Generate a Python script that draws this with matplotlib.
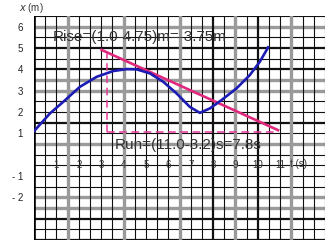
"""
Position-time graph with a tangent line drawn on graph paper,
showing rise and run used to get the slope.
"""
import numpy as np
import matplotlib.pyplot as plt
from matplotlib.transforms import ScaledTranslation

# blue position curve (time s, position m)
curve_t = [0.0, 0.71, 1.31, 2.05, 2.80, 3.54, 4.14, 4.58, 5.18, 5.77,
           6.37, 6.96, 7.41, 7.86, 8.38, 9.05, 9.64, 10.09, 10.46]
curve_x = [1.1, 1.93, 2.48, 3.18, 3.65, 3.92, 4.01, 4.0, 3.81, 3.42,
           2.87, 2.24, 1.96, 2.17, 2.56, 3.11, 3.73, 4.36, 5.03]

# tangent line end points
tangent_t = [3.02, 10.9]
tangent_x = [4.91, 1.15]

# rise / run helper lines
run_t = [3.25, 10.8]
run_x = 1.06
rise_t = 3.25
rise_x = [1.06, 4.75]

x_ticks = [1, 2, 3, 4, 5, 6, 7, 8, 9, 10, 11]
y_ticks = [6, 5, 4, 3, 2, 1, -1, -2]
y_tick_labels = ["6", "5", "4", "3", "2", "1", "- 1", "- 2"]

rise_text = "Rise=(1.0-4.75)m=-3.75m"
run_text = "Run=(11.0-3.2)s=7.8s"

plt.rcParams['font.family'] = ['Liberation Sans', 'DejaVu Sans']

fig = plt.figure(figsize=(3.31, 2.45), dpi=100)
ax = fig.add_axes([34 / 331, 5 / 245, 291 / 331, 224 / 245])
ax.set_xlim(0, 13)
ax.set_ylim(-4, 6.5)

# graph paper: thin black lines every half unit, some heavier ones
gray_h = [6, 3.5, 3, 0.5, -2, -2.5]
dark_h = [5, 4, 1.5, -3, -4]
gray_v = [1.5, 4, 6.5, 9, 11.5]
dark_v = [8, 10]
for y in np.arange(-4, 6.51, 0.5):
    if y in gray_h:
        ax.axhline(y, color='#9a9a9a', lw=2.4, zorder=1)
    elif y in dark_h:
        ax.axhline(y, color='#111111', lw=1.6, zorder=1)
    else:
        ax.axhline(y, color='#111111', lw=0.8, zorder=1)
for t in np.arange(0, 13.01, 0.5):
    if t in gray_v:
        ax.axvline(t, color='#9a9a9a', lw=2.4, zorder=1)
    elif t in dark_v:
        ax.axvline(t, color='#111111', lw=1.6, zorder=1)
    else:
        ax.axvline(t, color='#111111', lw=0.8, zorder=1)
ax.axvline(0, color='black', lw=2.6, zorder=2)

# curve, tangent and dashed rise/run lines
ax.plot(curve_t, curve_x, color='#1c1cb4', lw=1.9, zorder=4)
ax.plot(tangent_t, tangent_x, color='#e0287e', lw=1.9, zorder=3)
ax.plot([rise_t, rise_t], rise_x, color='#e8389a', lw=1.1,
        ls=(0, (5, 3)), zorder=3)
ax.plot(run_t, [run_x, run_x], color='#e8389a', lw=1.1,
        ls=(0, (5, 3)), zorder=3)

ax.text(0.85, 5.35, rise_text, fontsize=11, color='#333333', zorder=5)
ax.text(3.6, 0.26, run_text, fontsize=11, color='#333333', zorder=5)

# axes ticks and labels
for s in ax.spines.values():
    s.set_visible(False)
ax.spines['bottom'].set_position(('data', 0))
ax.set_xticks(x_ticks)
ax.set_yticks(y_ticks, labels=y_tick_labels)
ax.tick_params(length=0, labelsize=7, colors='#333333', pad=4)
ax.tick_params(axis='y', pad=8)
ax.tick_params(axis='y', labelcolor='#222222')

ax.text(11.45, -0.22, "t (s)", fontsize=7, color='#333333',
        va='top', zorder=5)
ax.text(-0.01, 1.035, "$x$ (m)", transform=ax.transAxes, fontsize=7,
        color='#333333', ha='center', va='center')

fig.savefig('out.png', dpi=100)
